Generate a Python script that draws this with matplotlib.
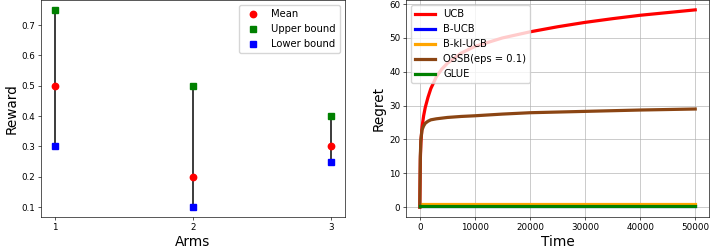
import matplotlib
matplotlib.use("Agg")
import matplotlib.pyplot as plt

# ---- data: left panel ----
arms = [1, 2, 3]
mean_reward = [0.5, 0.2, 0.3]
upper_bound = [0.75, 0.5, 0.4]
lower_bound = [0.3, 0.1, 0.25]

# ---- data: right panel (cumulative regret) ----
time = [0, 100, 200, 400, 700, 1000, 1500, 2000, 3000, 4000, 5000, 7500,
        10000, 15000, 20000, 25000, 30000, 35000, 40000, 45000, 50000]
ucb = [0, 14.0, 19.0, 23.5, 27.0, 29.5, 32.5, 35.0, 38.5, 40.8, 42.5, 45.5,
       47.5, 50.0, 51.8, 53.3, 54.6, 55.7, 56.7, 57.5, 58.3]
ossb = [0, 15.0, 20.0, 22.8, 24.0, 24.8, 25.4, 25.8, 26.1, 26.3, 26.5, 26.8,
        27.0, 27.5, 27.9, 28.1, 28.3, 28.5, 28.7, 28.85, 29.0]
b_ucb = [0.3] * len(time)
b_kl_ucb = [0.8] * len(time)
glue = [0.3] * len(time)

s = 0.575  # scale factor of original rendering
plt.rcParams.update({
    "font.family": "DejaVu Sans",
    "xtick.labelsize": 6.3,
    "ytick.labelsize": 6.3,
    "xtick.major.size": 3.5 * s,
    "ytick.major.size": 3.5 * s,
    "xtick.major.width": 0.8 * s,
    "ytick.major.width": 0.8 * s,
    "xtick.major.pad": 3.5 * s,
    "ytick.major.pad": 3.5 * s,
    "axes.linewidth": 0.8 * s,
    "axes.labelpad": 4 * s,
    "legend.fontsize": 7.2,
    "grid.linewidth": 0.8 * s,
})

fig = plt.figure(figsize=(7.12, 2.52), dpi=100)
ax1 = fig.add_axes([41 / 712, 1 - 217 / 252, 304 / 712, 217 / 252])
ax2 = fig.add_axes([406 / 712, 1 - 217 / 252, 303 / 712, 217 / 252])

# left panel
ax1.vlines(arms, lower_bound, upper_bound, color="#404040", linewidth=2.5 * s)
ax1.plot(arms, mean_reward, "o", color="red", markersize=8 * s, label="Mean")
ax1.plot(arms, upper_bound, "s", color="green", markersize=8 * s, label="Upper bound")
ax1.plot(arms, lower_bound, "s", color="blue", markersize=8 * s, label="Lower bound")
ax1.set_xticks(arms)
ax1.set_xlabel("Arms", fontsize=9.8)
ax1.set_ylabel("Reward", fontsize=9.8)
ax1.legend(loc="upper right", numpoints=1)

# right panel
lw = 4 * s
ax2.plot(time, ucb, color="red", linewidth=lw, label="UCB")
ax2.plot(time, b_ucb, color="blue", linewidth=lw, label="B-UCB")
ax2.plot(time, b_kl_ucb, color="orange", linewidth=lw, label="B-kl-UCB")
ax2.plot(time, ossb, color="#8B4513", linewidth=lw, label="OSSB(eps = 0.1)")
ax2.plot(time, glue, color="green", linewidth=lw, label="GLUE")
ax2.set_xticks([0, 10000, 20000, 30000, 40000, 50000])
ax2.set_yticks([0, 10, 20, 30, 40, 50, 60])
ax2.grid(True)
ax2.set_xlabel("Time", fontsize=9.8)
ax2.set_ylabel("Regret", fontsize=9.8)
ax2.legend(loc="upper left")

fig.savefig("out.png", dpi=100)
